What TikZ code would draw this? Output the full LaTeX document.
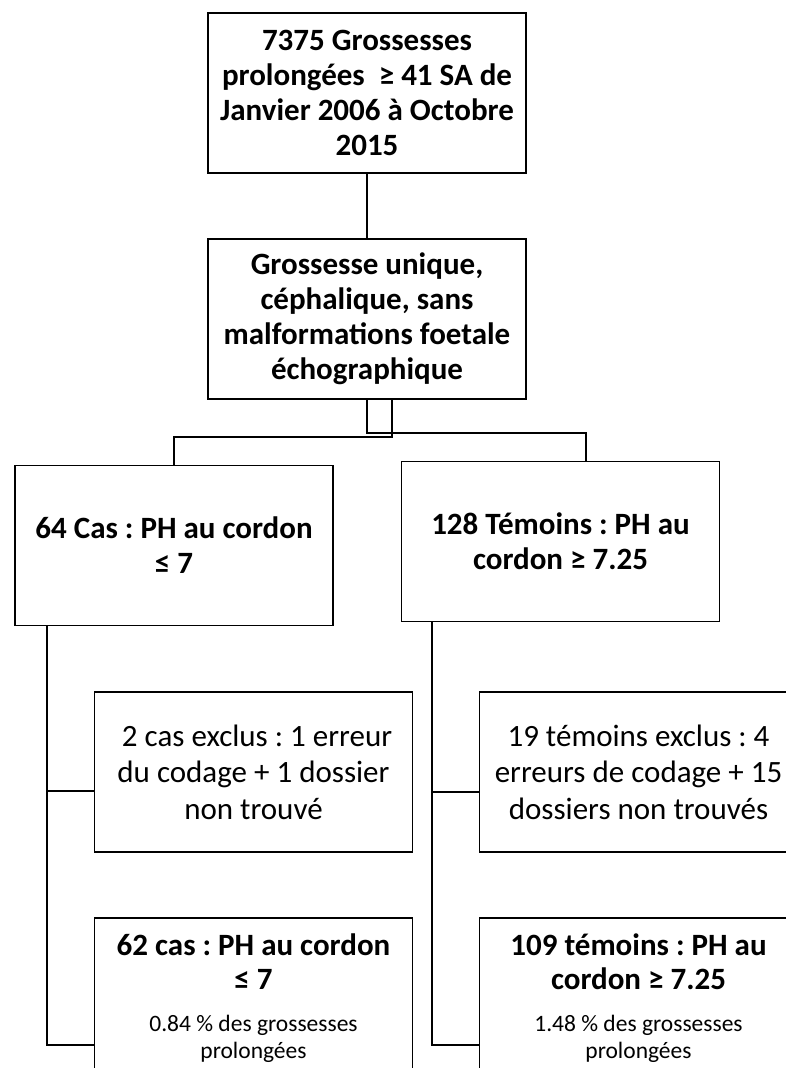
\documentclass[tikz,border=0pt]{standalone}
\usepackage{fontspec}
\setmainfont{Carlito}
\frenchspacing
\begin{document}
\begin{tikzpicture}[x=1pt,y=-1pt,
  box/.style={draw, line width=1.6pt, inner sep=0pt, align=center, minimum width=318pt, minimum height=160pt},
  boldtxt/.style={font=\fontsize{31}{35}\selectfont\bfseries},
  regtxt/.style={font=\fontsize{31}{36.5}\selectfont},
  link/.style={line width=1.6pt}]
\useasboundingbox (0,0) rectangle (786,1068);
\clip (0,0) rectangle (786,1068);
\node[box,boldtxt] (t) at (367,93) {7375 Grossesses\\prolongées \ ≥ 41 SA de\\Janvier 2006 à Octobre\\2015};
\node[box,boldtxt] (g) at (367,319) {Grossesse unique,\\céphalique, sans\\malformations foetale\\échographique};
\node[box,boldtxt] (c1) at (174,545.5) {64 Cas : PH au cordon\\≤ 7};
\node[box,boldtxt] (c2) at (560.5,541.5) {128 Témoins : PH au\\cordon ≥ 7.25};
\node[box,regtxt] (e1) at (253.5,772) {\ 2 cas exclus : 1 erreur\\du codage + 1 dossier\\non trouvé};
\node[box,regtxt] (e2) at (638.5,772) {19 témoins exclus : 4\\erreurs de codage + 15\\dossiers non trouvés};
\node[box] (f1) at (253.5,998) {\parbox{318pt}{\centering\bfseries\fontsize{31}{34}\selectfont 62 cas : PH au cordon\\≤ 7\par\vspace{16pt}\mdseries\fontsize{23.5}{26.5}\selectfont 0.84 \% des grossesses\\prolongées\par}};
\node[box] (f2) at (638.5,998) {\parbox{318pt}{\centering\bfseries\fontsize{31}{34}\selectfont 109 témoins : PH au\\cordon ≥ 7.25\par\vspace{16pt}\mdseries\fontsize{23.5}{26.5}\selectfont 1.48 \% des grossesses\\prolongées\par}};
\draw[link] (t) -- (g);
\draw[link] (g.south) -- ++(0,33) -| ([xshift=25.5pt]c2.north);
\draw[link] ([xshift=25pt]g.south) -- ++(0,37) -| (c1.north);
\draw[link] ([xshift=32.5pt]c1.south west) |- ([yshift=-19pt]e1.west);
\draw[link] ([xshift=32.5pt]c1.south west) |- ([yshift=-128pt]f1.north west);
\draw[link] ([xshift=31pt]c2.south west) |- ([yshift=-20pt]e2.west);
\draw[link] ([xshift=31pt]c2.south west) |- ([yshift=-128pt]f2.north west);
\end{tikzpicture}
\end{document}
